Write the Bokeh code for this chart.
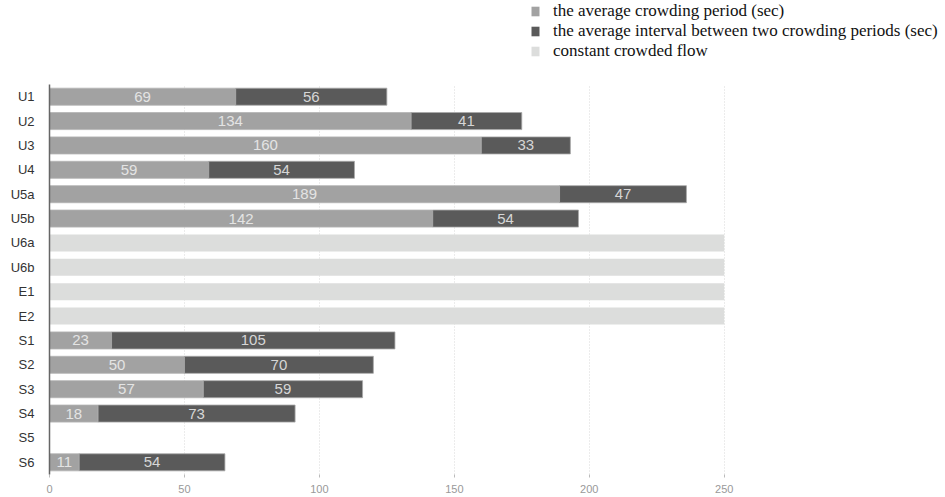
from bokeh.plotting import figure
from bokeh.layouts import column
from bokeh.models import ColumnDataSource, FactorRange, Range1d, FixedTicker, Legend, LegendItem
from bokeh.core.properties import value
from bokeh.embed import file_html
from bokeh.resources import INLINE

categories = ["U1", "U2", "U3", "U4", "U5a", "U5b", "U6a", "U6b", "E1", "E2",
              "S1", "S2", "S3", "S4", "S5", "S6"]
crowding_period = [69, 134, 160, 59, 189, 142, 0, 0, 0, 0, 23, 50, 57, 18, 0, 11]
crowding_interval = [56, 41, 33, 54, 47, 54, 0, 0, 0, 0, 105, 70, 59, 73, 0, 54]
constant_flow = [0, 0, 0, 0, 0, 0, 250, 250, 250, 250, 0, 0, 0, 0, 0, 0]
legend_labels = ["the average crowding period (sec)",
                 "the average interval between two crowding periods (sec)",
                 "constant crowded flow"]
x_ticks = [0, 50, 100, 150, 200, 250]

C_PERIOD = "#a2a2a2"
C_INTERVAL = "#5a5a5a"
C_CONST = "#dcdddc"

# ---- legend strip ----
top = figure(x_range=Range1d(0, 1), y_range=Range1d(0, 1),
             frame_width=896, frame_height=80,
             min_border_left=49, min_border_top=0, min_border_right=0, min_border_bottom=0,
             x_axis_location=None, y_axis_location=None,
             output_backend="svg", toolbar_location=None)
top.outline_line_color = None
top.xgrid.grid_line_color = None
top.ygrid.grid_line_color = None
lr = [top.hbar(y=[-5], left=[0], right=[0.1], height=0.5,
               fill_color=c, line_color=None) for c in (C_PERIOD, C_INTERVAL, C_CONST)]
legend = Legend(items=[LegendItem(label=t, renderers=[r], index=0) for t, r in zip(legend_labels, lr)],
                location=(481, 19), orientation="vertical",
                label_text_font="Liberation Serif", label_text_font_size="17px",
                label_text_color="#111111", glyph_width=10, glyph_height=12,
                label_height=17, spacing=-2, padding=0, margin=0, label_standoff=13,
                border_line_color=None, background_fill_alpha=0)
top.add_layout(legend, "center")

# ---- main chart ----
p = figure(y_range=FactorRange(factors=list(reversed(categories)), range_padding=0),
           x_range=Range1d(0, 332),
           frame_width=896, frame_height=390,
           min_border_left=49, min_border_top=4, min_border_right=0, min_border_bottom=0,
           output_backend="svg", toolbar_location=None)
p.outline_line_color = None
p.background_fill_color = "white"

per_src = ColumnDataSource(dict(
    y=[c for c, v in zip(categories, crowding_period) if v > 0],
    left=[0 for v in crowding_period if v > 0],
    right=[v for v in crowding_period if v > 0],
    mid=[v / 2 for v in crowding_period if v > 0],
    lab=[str(v) for v in crowding_period if v > 0],
))
int_src = ColumnDataSource(dict(
    y=[c for c, a, b in zip(categories, crowding_period, crowding_interval) if b > 0],
    left=[a for a, b in zip(crowding_period, crowding_interval) if b > 0],
    right=[a + b for a, b in zip(crowding_period, crowding_interval) if b > 0],
    mid=[a + b / 2 for a, b in zip(crowding_period, crowding_interval) if b > 0],
    lab=[str(b) for b in crowding_interval if b > 0],
))
const_src = ColumnDataSource(dict(
    y=[c for c, v in zip(categories, constant_flow) if v > 0],
    left=[0 for v in constant_flow if v > 0],
    right=[v for v in constant_flow if v > 0],
))

p.hbar(y="y", left="left", right="right", height=0.7, source=per_src,
       fill_color=C_PERIOD, line_color="#b4b4b4", line_width=0.8)
p.hbar(y="y", left="left", right="right", height=0.7, source=int_src,
       fill_color=C_INTERVAL, line_color="#a8a8a8", line_width=0.8)
p.hbar(y="y", left="left", right="right", height=0.7, source=const_src,
       fill_color=C_CONST, line_color=None)

for src, col in ((per_src, "#e4e4e4"), (int_src, "#d6d6d6")):
    p.text(x="mid", y="y", text="lab", source=src, text_align="center",
           text_baseline="middle", text_font=value("Liberation Sans"),
           text_font_size="15px", text_color=col)

p.xaxis.ticker = FixedTicker(ticks=x_ticks)
p.xaxis.axis_line_color = None
p.xaxis.major_tick_line_color = "#bbbbbb"
p.xaxis.major_tick_out = 3
p.xaxis.major_tick_in = 0
p.xaxis.minor_tick_line_color = None
p.xaxis.major_label_text_font = "Liberation Sans"
p.xaxis.major_label_text_font_size = "11px"
p.xaxis.major_label_text_color = "#999999"
p.xaxis.major_label_standoff = 7

p.yaxis.axis_line_color = "#666666"
p.yaxis.axis_line_width = 1.5
p.yaxis.major_tick_line_color = None
p.yaxis.minor_tick_line_color = None
p.yaxis.major_label_text_font = "Liberation Sans"
p.yaxis.major_label_text_font_size = "13px"
p.yaxis.major_label_text_color = "#333333"
p.yaxis.major_label_standoff = 9

p.xgrid.grid_line_color = "#d8d8d8"
p.xgrid.grid_line_dash = "1 2"
p.xgrid.ticker = FixedTicker(ticks=x_ticks[1:])
p.ygrid.grid_line_color = None

layout = column(top, p, spacing=0)
open("out.html", "w").write(file_html(layout, INLINE))
